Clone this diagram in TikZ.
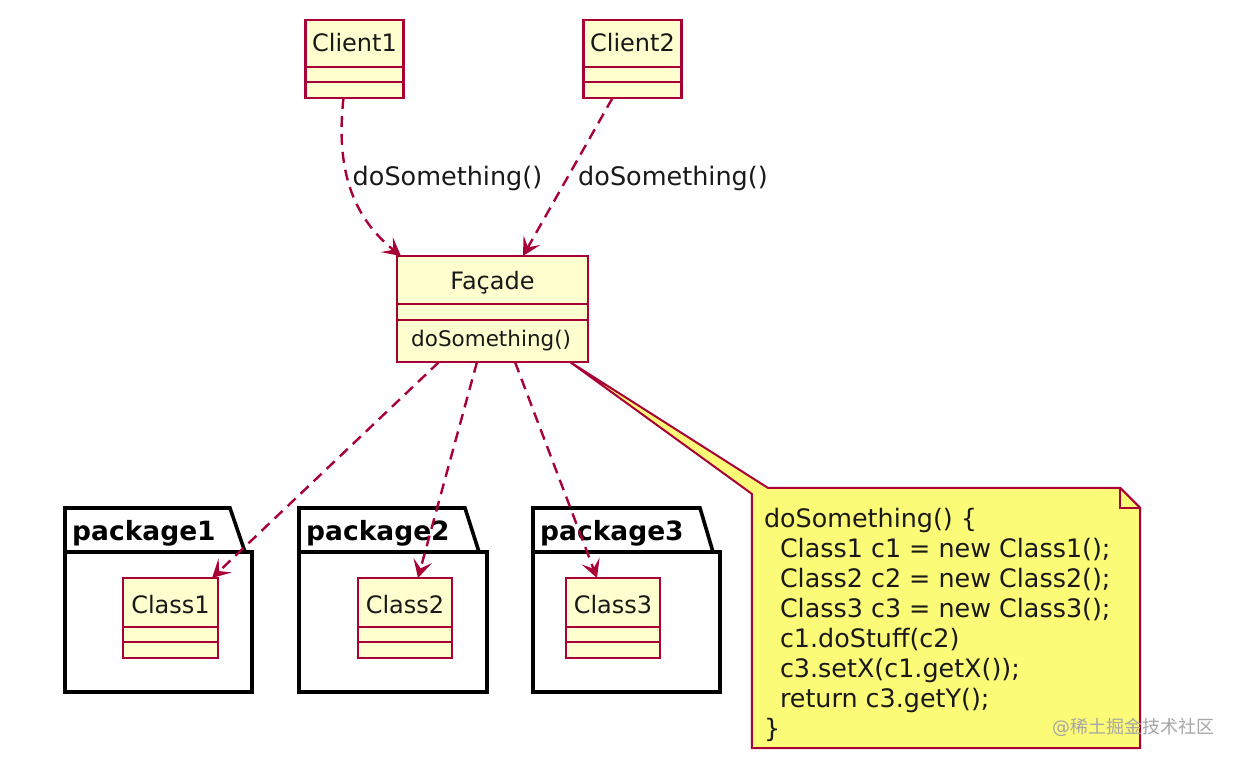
\documentclass[tikz,border=0pt]{standalone}
\usepackage{fontspec}
\setmainfont{DejaVu Sans}
\newfontfamily\cjkfont{Noto Sans CJK SC}
\usetikzlibrary{arrows.meta,calc}
\definecolor{umlred}{HTML}{A80036}
\definecolor{classfill}{HTML}{FEFECE}
\definecolor{notefill}{HTML}{FBFB77}
\tikzset{
  classbox/.style={draw=umlred, fill=classfill, line width=2.6pt, inner sep=0pt, outer sep=0pt},
  sepline/.style={draw=umlred, line width=2.4pt},
  pkgbox/.style={inner sep=0pt, outer sep=0pt, minimum width=187pt, minimum height=140pt},
  pkgline/.style={draw=black, line width=3.6pt, line join=miter, fill=white},
  dep/.style={draw=umlred, line width=2.4pt, dash pattern=on 11pt off 7pt,
    -{Stealth[length=18pt,width=19pt,inset=8pt]}},
  nametext/.style={font=\fontsize{24}{28}\selectfont, inner sep=0pt, text=black!90},
  methtext/.style={font=\fontsize{21.5}{26}\selectfont, inner sep=0pt, text=black!90},
  labeltext/.style={font=\fontsize{25.5}{30}\selectfont, inner sep=0pt, text=black!90},
  pkgtext/.style={font=\fontsize{26.5}{30}\selectfont\bfseries, inner sep=0pt, anchor=west},
  notestyle/.style={draw=umlred, fill=notefill, line width=2pt, line join=miter},
  notetext/.style={font=\fontsize{25.4}{30}\selectfont, inner sep=0pt, align=left, anchor=north west, text=black!90},
}
\begin{document}
\begin{tikzpicture}[x=1pt,y=-1pt]
\useasboundingbox[fill=white] (0,0) rectangle (1234,758);

% ---------- clients ----------
\node (c1) [classbox, minimum width=98pt, minimum height=78pt] at (354.5,59) {};
\node (c1t) [nametext] at (354.5,43) {Client1};
\draw[sepline] ($(c1.north west)+(0,47)$) -- ($(c1.north east)+(0,47)$);
\draw[sepline] ($(c1.north west)+(0,62)$) -- ($(c1.north east)+(0,62)$);

\node (c2) [classbox, minimum width=98pt, minimum height=78pt] at (632.5,59) {};
\node (c2t) [nametext] at (632.5,43) {Client2};
\draw[sepline] ($(c2.north west)+(0,47)$) -- ($(c2.north east)+(0,47)$);
\draw[sepline] ($(c2.north west)+(0,62)$) -- ($(c2.north east)+(0,62)$);

% ---------- facade ----------
\node (fac) [classbox, minimum width=191pt, minimum height=106pt] at (492.5,309) {};
\node (fact) [nametext] at (492.5,283) {Façade};
\draw[sepline] ($(fac.north west)+(0,48)$) -- ($(fac.north east)+(0,48)$);
\draw[sepline] ($(fac.north west)+(0,64)$) -- ($(fac.north east)+(0,64)$);
\node (facm) [methtext, anchor=west] at (411,341) {doSomething()};

% ---------- packages ----------
\node (p1) [pkgbox] at (158.5,622) {};
\draw[pkgline] (p1.south west) -- ($(p1.north west)+(0,-44)$) -- ($(p1.north west)+(165,-44)$)
  -- ($(p1.north west)+(180,0)$) -- (p1.north east) -- (p1.south east) -- cycle;
\draw[pkgline] (p1.north west) -- ($(p1.north west)+(180,0)$);
\node (p1t) [pkgtext] at ($(p1.north west)+(7,-19)$) {package1};

\node (p2) [pkgbox, minimum width=188pt] at (393,622) {};
\draw[pkgline] (p2.south west) -- ($(p2.north west)+(0,-44)$) -- ($(p2.north west)+(166,-44)$)
  -- ($(p2.north west)+(180,0)$) -- (p2.north east) -- (p2.south east) -- cycle;
\draw[pkgline] (p2.north west) -- ($(p2.north west)+(180,0)$);
\node (p2t) [pkgtext] at ($(p2.north west)+(7,-19)$) {package2};

\node (p3) [pkgbox] at (626.5,622) {};
\draw[pkgline] (p3.south west) -- ($(p3.north west)+(0,-44)$) -- ($(p3.north west)+(167,-44)$)
  -- ($(p3.north west)+(180,0)$) -- (p3.north east) -- (p3.south east) -- cycle;
\draw[pkgline] (p3.north west) -- ($(p3.north west)+(180,0)$);
\node (p3t) [pkgtext] at ($(p3.north west)+(7,-19)$) {package3};

% ---------- classes ----------
\node (k1) [classbox, minimum width=95pt, minimum height=80pt] at (170.5,618) {};
\node (k1t) [nametext] at (170.5,605) {Class1};
\draw[sepline] ($(k1.north west)+(0,49)$) -- ($(k1.north east)+(0,49)$);
\draw[sepline] ($(k1.north west)+(0,64)$) -- ($(k1.north east)+(0,64)$);

\node (k2) [classbox, minimum width=94pt, minimum height=80pt] at (405,618) {};
\node (k2t) [nametext] at (405,605) {Class2};
\draw[sepline] ($(k2.north west)+(0,49)$) -- ($(k2.north east)+(0,49)$);
\draw[sepline] ($(k2.north west)+(0,64)$) -- ($(k2.north east)+(0,64)$);

\node (k3) [classbox, minimum width=94pt, minimum height=80pt] at (613,618) {};
\node (k3t) [nametext] at (613,605) {Class3};
\draw[sepline] ($(k3.north west)+(0,49)$) -- ($(k3.north east)+(0,49)$);
\draw[sepline] ($(k3.north west)+(0,64)$) -- ($(k3.north east)+(0,64)$);

% ---------- note ----------
\node (note) [inner sep=0pt, minimum width=388pt, minimum height=260pt] at (946,618) {};
\draw[notestyle] ($(note.north west)+(16,0)$) -- ($(note.north east)+(-20,0)$)
  -- ($(note.north east)+(0,20)$) -- (note.south east) -- (note.south west)
  -- ($(note.north west)+(0,6)$) -- ($(fac.south east)+(-18,0)$) -- cycle;
\draw[notestyle, fill=none] ($(note.north east)+(-20,0)$) -- ($(note.north east)+(-20,20)$) -- ($(note.north east)+(0,20)$);
\node (nt) [notetext] at ($(note.north west)+(12,20)$) {doSomething() \{\\
\hspace*{16pt}Class1 c1 = new Class1();\\
\hspace*{16pt}Class2 c2 = new Class2();\\
\hspace*{16pt}Class3 c3 = new Class3();\\
\hspace*{16pt}c1.doStuff(c2)\\
\hspace*{16pt}c3.setX(c1.getX());\\
\hspace*{16pt}return c3.getY();\\
\}};

% ---------- connectors ----------
\draw[dep] ($(c1.south west)+(38,0)$) .. controls (336,165) and (350,215) .. ($(fac.north west)+(4,0)$);
\draw[dep] ($(c2.south west)+(29,0)$) -- ($(fac.north west)+(126,0)$);
\node (l1) [labeltext] at (447.5,178) {doSomething()};
\node (l2) [labeltext] at (673,178) {doSomething()};

\draw[dep] ($(fac.south west)+(42,0)$) -- ($(k1.north east)+(-6,0)$);
\draw[dep] ($(fac.south west)+(80,0)$) -- ($(k2.north)+(13,0)$);
\draw[dep] ($(fac.south west)+(118,0)$) -- ($(k3.north)+(-16,0)$);

% ---------- watermark ----------
\node (wm) [inner sep=0pt, anchor=west, text=black!35, font=\fontsize{18}{22}\selectfont] at (1052,727) {@\cjkfont 稀土掘金技术社区};
\end{tikzpicture}
\end{document}
